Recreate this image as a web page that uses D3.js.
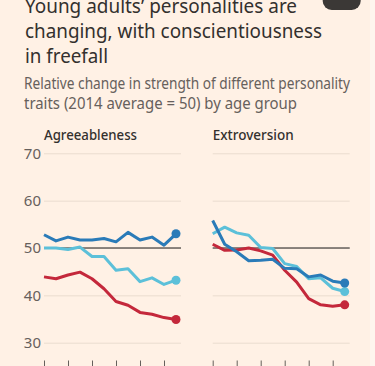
<!DOCTYPE html>
<html><head><meta charset="utf-8">
<script src="https://cdn.jsdelivr.net/npm/d3@7"></script>
<style>
html,body{margin:0;padding:0;background:#fff1e5;}
svg{display:block;}
</style></head>
<body>
<svg id="chart" width="375" height="366"></svg>
<script>
const years = [2014,2015,2016,2017,2018,2019,2020,2021,2022,2023,2024,2025];
const tickYears = [2014,2016,2018,2020,2022,2024];
const yTicks = [30,40,50,60,70];
const panelTitles = ["Agreeableness","Extroversion"];
const seriesNames = ["Older","Middle","Young"];
const seriesColors = ["#2a7bb8","#5cc0d9","#c4283b"];
// Agreeableness
const agreeOlder  = [52.8,51.5,52.3,51.7,51.7,52.0,51.3,53.3,51.7,52.3,50.6,53.0];
const agreeMiddle = [50.0,50.0,49.7,50.2,48.2,48.2,45.3,45.6,42.9,43.7,42.3,43.2];
const agreeYoung  = [43.9,43.5,44.3,44.9,43.5,41.4,38.7,37.9,36.4,36.0,35.3,34.9];
// Extroversion
const extroOlder  = [55.8,50.8,49.2,47.3,47.4,47.6,45.7,45.6,43.9,44.3,43.0,42.6];
const extroMiddle = [53.0,54.4,53.2,52.7,50.1,49.9,46.7,46.1,43.5,43.7,41.5,40.8];
const extroYoung  = [50.8,49.5,49.6,50.0,49.4,48.5,45.3,42.8,39.3,38.0,37.7,38.0];

const panels = [
  {title: panelTitles[0], series: [agreeOlder, agreeMiddle, agreeYoung], x0: 44, showY: true, tw: 93},
  {title: panelTitles[1], series: [extroOlder, extroMiddle, extroYoung], x0: 212.7, showY: false, tw: 81}
];

const svg = d3.select("#chart");
svg.append("rect").attr("width",375).attr("height",366).attr("fill","#fff1e5");
svg.append("rect").attr("x",370).attr("width",5).attr("height",366).attr("fill","#fef5ee");

// badge top right
svg.append("rect").attr("x",322.7).attr("y",-20).attr("width",38).attr("height",30).attr("rx",9).attr("fill","#3b3836");

const titleLines = [["Young adults\u2019 personalities are",272],["changing, with conscientiousness",297],["in freefall",83]];
titleLines.forEach((t,i)=>{
  svg.append("text").attr("font-family","Noto Sans, sans-serif").attr("font-size",19.5).attr("fill","#33302e")
    .attr("x",25).attr("y",12.5+i*25.3).attr("textLength",t[1]).attr("lengthAdjust","spacingAndGlyphs").text(t[0]);
});
const subLines = [["Relative change in strength of different personality",326],["traits (2014 average = 50) by age group",273]];
subLines.forEach((t,i)=>{
  svg.append("text").attr("font-family","Noto Sans, sans-serif").attr("font-size",15.5).attr("fill","#66605c")
    .attr("x",24).attr("y",89+i*20).attr("textLength",t[1]).attr("lengthAdjust","spacingAndGlyphs").text(t[0]);
});

const y = d3.scaleLinear().domain([30,70]).range([342.7,153.3]);

panels.forEach(p=>{
  const x = d3.scaleLinear().domain([years[0], years[years.length-1]]).range([p.x0, p.x0+132]);
  const g = svg.append("g");
  g.append("text").attr("x",p.x0).attr("y",140).attr("font-family","Noto Sans, sans-serif")
    .attr("font-size",15).attr("font-weight",500).attr("fill","#33302e")
    .attr("textLength",p.tw).attr("lengthAdjust","spacingAndGlyphs").text(p.title);

  const grid = g.append("g").attr("transform",`translate(${p.x0},0)`)
    .call(d3.axisLeft(y).tickValues(yTicks).tickSize(-137).tickFormat(p.showY ? d3.format("d") : ""));
  grid.select(".domain").remove();
  grid.selectAll(".tick line").attr("stroke","#eadccf").attr("stroke-width",1);
  grid.selectAll(".tick text").attr("x",-3).attr("font-family","Noto Sans, sans-serif")
    .attr("font-size",15).attr("fill","#66605c");

  g.append("line").attr("x1",p.x0).attr("x2",p.x0+137).attr("y1",y(50)).attr("y2",y(50))
    .attr("stroke","#66605c").attr("stroke-width",1.5);

  const xa = g.append("g").attr("transform","translate(0,360.5)")
    .call(d3.axisBottom(x).tickValues(tickYears).tickSize(8).tickFormat(""));
  xa.select(".domain").remove();
  xa.selectAll(".tick line").attr("stroke","#66605c").attr("stroke-width",1);

  const line = d3.line().x((d,i)=>x(years[i])).y(d=>y(d));
  const order = p.showY ? [1,2,0] : [2,1,0];
  order.forEach(si=>{
    const s = p.series[si];
    g.append("path").datum(s).attr("d",line).attr("fill","none")
      .attr("stroke",seriesColors[si]).attr("stroke-width",3).attr("stroke-linejoin","round");
  });
  order.forEach(si=>{
    const s = p.series[si];
    g.append("circle").attr("cx",x(years[years.length-1])).attr("cy",y(s[s.length-1]))
      .attr("r",4.5).attr("fill",seriesColors[si]);
  });
});
</script>
</body></html>
